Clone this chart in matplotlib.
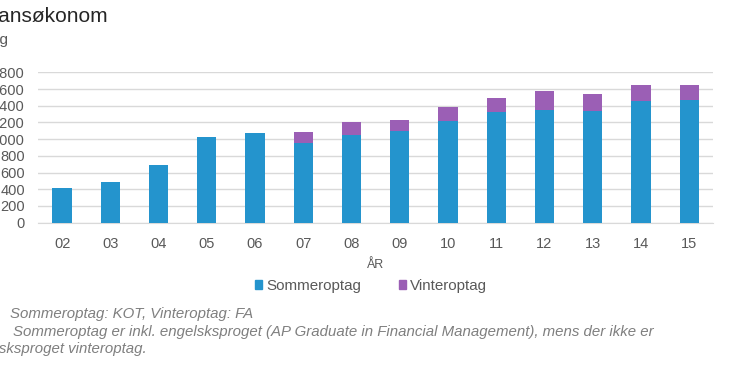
import matplotlib
matplotlib.use("Agg")
import matplotlib.pyplot as plt
from matplotlib.patches import Patch

plt.rcParams['font.family'] = ['Liberation Sans', 'DejaVu Sans']

# data
years = ['02', '03', '04', '05', '06', '07', '08', '09', '10', '11', '12', '13', '14', '15']
sommer = [415, 483, 690, 1022, 1073, 954, 1045, 1097, 1213, 1321, 1349, 1333, 1453, 1465]
vinter = [0, 0, 0, 0, 0, 131, 156, 132, 172, 168, 231, 207, 195, 183]
yticks = [0, 200, 400, 600, 800, 1000, 1200, 1400, 1600, 1800]

blue = '#2494cd'
purple = '#9b5fb5'
grey_txt = '#595959'
W, H = 730, 365

fig = plt.figure(figsize=(W / 100, H / 100), dpi=100)
ax = fig.add_axes([38 / W, 1 - 222.7 / H, (713.3 - 38) / W, (222.7 - 72.3) / H])

x = range(len(years))
ax.bar(x, sommer, width=0.4, color=blue, zorder=3)
ax.bar(x, vinter, width=0.4, bottom=sommer, color=purple, zorder=3)

ax.set_xlim(-0.5, len(years) - 0.5)
ax.set_ylim(0, 1800)
ax.set_yticks(yticks)
ax.set_yticklabels([str(v) for v in yticks])
ax.set_xticks(list(x))
ax.set_xticklabels(years)
ax.grid(axis='y', color='#d9d9d9', linewidth=1, zorder=0)
for s in ['top', 'right', 'left']:
    ax.spines[s].set_visible(False)
ax.spines['bottom'].set_color('#d9d9d9')
ax.tick_params(axis='both', length=0, labelsize=10.5, labelcolor=grey_txt)
ax.tick_params(axis='y', pad=9.5)
ax.tick_params(axis='x', pad=10)
ax.set_xlabel('ÅR', fontsize=9, color=grey_txt, labelpad=6)

# title block (cut off at the left edge like the source)
fig.text(108 / W, 1 - 17 / H, 'Finansøkonom', ha='right', va='center', fontsize=15, color='#262626')
fig.text(8 / W, 1 - 40 / H, 'Antal optag', ha='right', va='center', fontsize=11, color=grey_txt)

handles = [Patch(color=blue, label='Sommeroptag'), Patch(color=purple, label='Vinteroptag')]
fig.legend(handles=handles, loc='center', bbox_to_anchor=(371 / W, 1 - 286 / H), ncol=2, frameon=False,
           handlelength=0.46, handleheight=0.46, handletextpad=0.3, columnspacing=2.5,
           fontsize=10.9, labelcolor=grey_txt)

# footnotes
fn = dict(va='center', fontsize=10.85, style='italic', color='#7f7f7f')
fig.text(10 / W, 1 - 314 / H, 'Sommeroptag: KOT, Vinteroptag: FA', ha='left', **fn)
fig.text(13 / W, 1 - 332 / H, 'Sommeroptag er inkl. engelsksproget (AP Graduate in Financial Management), mens der ikke er',
         ha='left', **fn)
fig.text(147 / W, 1 - 349 / H, 'engelsksproget vinteroptag.', ha='right', **fn)

fig.savefig('out.png', dpi=100)
